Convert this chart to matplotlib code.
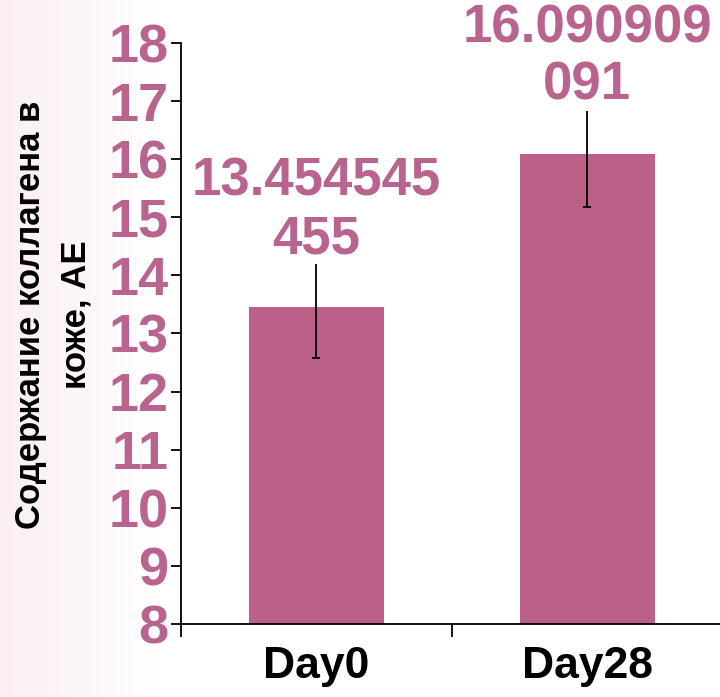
import numpy as np
import matplotlib.pyplot as plt
from matplotlib.colors import LinearSegmentedColormap

# содержание коллагена, два замера
days = ['Day0', 'Day28']
values = [13.454545455, 16.090909091]
errors = [0.88, 0.91]
labels = ['13.454545\n455', '16.090909\n091']
yticks = list(range(8, 19))

bar_col = '#BC6088'
txt_col = '#B9648F'

fig = plt.figure(figsize=(7.2, 6.97), dpi=100)

# бледный розовый фон слева
bg = fig.add_axes([0, 0, 1, 1], zorder=-10)
grad = np.linspace(0, 1, 256)[None, :]
cm = LinearSegmentedColormap.from_list('bg', [(0, '#FBEFF5'), (0.1, '#FCF5F9'), (0.22, '#FFFFFF'), (1, '#FFFFFF')])
bg.imshow(grad, cmap=cm, aspect='auto', extent=[0, 1, 0, 1])
bg.axis('off')

ax = fig.add_axes([181 / 720, 73 / 697, 539 / 720, 581 / 697])
ax.patch.set_alpha(0)
x = np.arange(len(days))
ax.bar(x, [v - 8 for v in values], bottom=8, width=0.5, color=bar_col, zorder=2)
ax.errorbar(x, values, yerr=errors, fmt='none', ecolor='black', elinewidth=1.3,
            capsize=3, capthick=1.3, zorder=3)

for xi, v, lab in zip(x, values, labels):
    ax.annotate(lab, (xi, v), xytext=(0, 31), textcoords='offset points', ha='center', va='bottom',
                fontsize=38, fontweight='bold', color=txt_col, family='Liberation Sans',
                linespacing=1.2, annotation_clip=False, zorder=4,
                bbox=dict(facecolor='white', edgecolor='none', pad=0))

ax.set_ylim(8, 18)
ax.set_xlim(-0.5, 1.49)
ax.set_yticks(yticks)
ax.set_yticklabels([str(t) for t in yticks], fontsize=39, fontweight='bold', color=txt_col,
                   family='Liberation Sans')
ax.tick_params(axis='y', length=7, width=1.3, pad=2)

ax.set_xticks([-0.5, 0.5])
ax.set_xticklabels(['', ''])
ax.tick_params(axis='x', which='major', length=9, width=1.3)
ax.set_xticks(x, minor=True)
ax.set_xticklabels(days, minor=True, fontsize=32, fontweight='bold', color='black',
                   family='Liberation Sans')
ax.tick_params(axis='x', which='minor', length=0, pad=16)

ax.spines['top'].set_visible(False)
ax.spines['right'].set_visible(False)
ax.spines['left'].set_linewidth(1.3)
ax.spines['bottom'].set_linewidth(1.3)

ax.set_ylabel('Содержание коллагена в\nкоже, АЕ', fontsize=25, fontweight='bold',
              family='Liberation Sans', linespacing=1.45)
ax.yaxis.set_label_coords(-0.165, 0.532)

fig.savefig('out.png', dpi=100)
